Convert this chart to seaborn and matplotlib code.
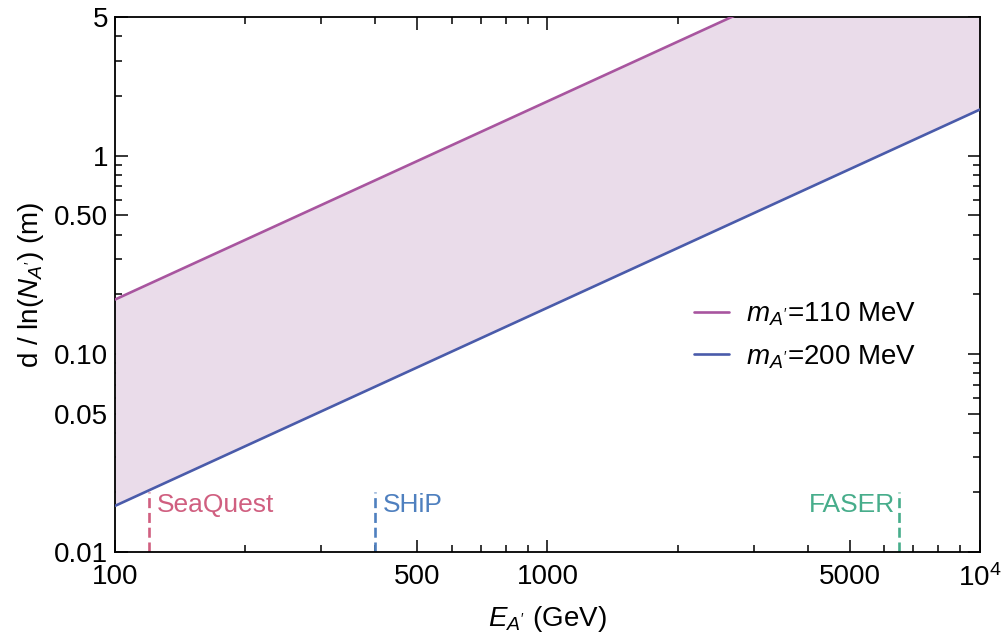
import numpy as np
import pandas as pd
import seaborn as sns
import matplotlib.pyplot as plt
from matplotlib.ticker import FixedLocator, FixedFormatter, NullFormatter

# data
energy = [100, 10000]                      # GeV
d_110 = [0.188, 18.8]                      # m, m_A' = 110 MeV
d_200 = [0.0171, 1.71]                     # m, m_A' = 200 MeV
masses = ["110", "200"]

experiments = ["SeaQuest", "SHiP", "FASER"]
exp_energy = [120, 400, 6500]
exp_top = 0.02
exp_colors = ["#d05f80", "#4f80bf", "#47ad8b"]

x_ticks = [100, 500, 1000, 5000, 10000]
x_labels = ["100", "500", "1000", "5000", r"$10^4$"]
y_ticks = [0.01, 0.05, 0.10, 0.50, 1, 5]
y_labels = ["0.01", "0.05", "0.10", "0.50", "1", "5"]

line_colors = ["#a8559f", "#4a5baa"]
fill_color = "#eadcea"

sns.set_style("ticks")
plt.rcParams['font.family'] = ['Liberation Sans', 'DejaVu Sans']
plt.rcParams['mathtext.fontset'] = 'custom'
plt.rcParams['mathtext.rm'] = 'Liberation Sans'
plt.rcParams['mathtext.it'] = 'Liberation Sans:italic'
plt.rcParams['mathtext.default'] = 'regular'
plt.rcParams['text.color'] = 'black'
plt.rcParams['axes.labelcolor'] = 'black'
plt.rcParams['xtick.color'] = 'black'
plt.rcParams['ytick.color'] = 'black'

df = pd.DataFrame({
    "E": energy * 2,
    "d": d_110 + d_200,
    "m": [masses[0]] * 2 + [masses[1]] * 2,
})

fig, ax = plt.subplots(figsize=(10.03, 6.36), dpi=100)
fig.subplots_adjust(left=0.1147, right=0.977, top=0.973, bottom=0.132)

ax.fill_between(energy, d_200, d_110, color=fill_color, lw=0, zorder=1)
sns.lineplot(data=df, x="E", y="d", hue="m", palette=line_colors, lw=1.9,
             ax=ax, zorder=3, legend=False)

for name, e, c in zip(experiments, exp_energy, exp_colors):
    ax.plot([e, e], [0.01, exp_top], ls=(0, (3.8, 1.8)), color=c, lw=1.9,
            zorder=2)
    if name == "FASER":
        ax.text(e / 1.02, exp_top * 0.99, name, color=c, fontsize=19,
                ha="right", va="top")
    else:
        ax.text(e * 1.04, exp_top * 0.99, name, color=c, fontsize=19,
                ha="left", va="top")

ax.set_xscale("log")
ax.set_yscale("log")
ax.set_xlim(100, 10000)
ax.set_ylim(0.01, 5)

ax.xaxis.set_major_locator(FixedLocator(x_ticks))
ax.xaxis.set_major_formatter(FixedFormatter(x_labels))
ax.yaxis.set_major_locator(FixedLocator(y_ticks))
ax.yaxis.set_major_formatter(FixedFormatter(y_labels))
x_minor = [m * 10 ** k for k in (2, 3) for m in range(2, 10) if m != 5]
y_minor = [m * 10 ** k for k in (-2, -1, 0) for m in range(2, 10) if m != 5]
ax.xaxis.set_minor_locator(FixedLocator(x_minor))
ax.yaxis.set_minor_locator(FixedLocator([v for v in y_minor if v < 5]))
ax.xaxis.set_minor_formatter(NullFormatter())
ax.yaxis.set_minor_formatter(NullFormatter())

ax.tick_params(which="both", direction="in", top=True, right=True,
               labelsize=20, width=1.1)
ax.tick_params(which="major", length=9)
ax.tick_params(axis="y", which="major", pad=5)
ax.tick_params(axis="x", which="major", pad=8.5)
ax.tick_params(which="minor", length=5)
for s in ax.spines.values():
    s.set_linewidth(1.3)
    s.set_color("black")

ax.set_xlabel(r"$\mathit{E_{A'}}$ (GeV)", fontsize=20, labelpad=9)
ax.set_ylabel(r"d / ln($\mathit{N_{A'}}$) (m)", fontsize=20, labelpad=6)

handles = [plt.Line2D([], [], color=c, lw=1.9) for c in line_colors]
labels = [r"$\mathit{m_{A'}}$=" + m + " MeV" for m in masses]
ax.legend(handles, labels, loc="center left", bbox_to_anchor=(0.641, 0.405),
          frameon=False, fontsize=20, handlelength=1.25, handletextpad=0.6,
          labelspacing=0.55)

fig.savefig("out.png", dpi=100)
